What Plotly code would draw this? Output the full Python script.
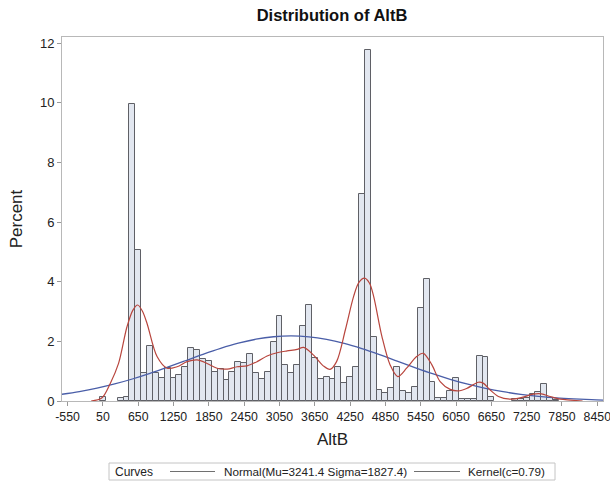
import plotly.graph_objects as go

# Histogram bins (midpoints) and percents
bin_mid = [50, 350, 450, 550, 650, 750, 850, 950, 1050, 1150, 1250, 1350, 1450, 1550,
           1650, 1750, 1850, 1950, 2050, 2150, 2250, 2350, 2450, 2550, 2650, 2750, 2850,
           2950, 3050, 3150, 3250, 3350, 3450, 3550, 3650, 3750, 3850, 3950, 4050, 4150,
           4250, 4350, 4450, 4550, 4650, 4750, 4850, 4950, 5050, 5150, 5250, 5350, 5450,
           5550, 5650, 5750, 5850, 5950, 6050, 6150, 6250, 6350, 6450, 6550, 6650, 7050,
           7150, 7250, 7350, 7450, 7550, 7650, 7750]
bin_pct = [0.12, 0.10, 0.15, 9.95, 5.05, 0.93, 1.85, 0.93, 0.76, 1.10, 0.76, 0.87, 1.13, 1.79,
           1.71, 1.40, 1.34, 0.98, 1.07, 0.70, 0.96, 1.30, 1.26, 1.58, 0.93, 0.74, 0.98,
           1.97, 2.85, 1.21, 0.93, 1.21, 2.53, 3.22, 1.43, 0.73, 0.82, 0.73, 1.15, 0.62,
           0.82, 1.13, 6.93, 11.78, 2.14, 0.37, 0.26, 0.42, 1.13, 0.34, 0.28, 0.48, 3.11,
           4.08, 0.65, 0.09, 0.09, 0.34, 0.78, 0.06, 0.06, 0.06, 1.51, 1.47, 0.12, 0.07,
           0.07, 0.09, 0.22, 0.30, 0.57, 0.09, 0.03]

# Normal curve
normal_x = [-650, -350, -50, 250, 550, 850, 1150, 1450, 1750, 2050, 2350, 2650, 2950, 3250,
            3550, 3850, 4150, 4450, 4750, 5050, 5350, 5650, 5950, 6250, 6550, 6850, 7150,
            7450, 7750, 8050, 8350, 8550]
normal_y = [0.226, 0.317, 0.431, 0.572, 0.738, 0.927, 1.134, 1.350, 1.565, 1.765, 1.938,
            2.072, 2.155, 2.183, 2.152, 2.065, 1.929, 1.754, 1.553, 1.338, 1.122, 0.916,
            0.728, 0.563, 0.424, 0.311, 0.222, 0.154, 0.104, 0.069, 0.044, 0.032]

# Kernel curve
kernel_x = [-150, 30, 175, 316, 459, 560, 640, 720, 800, 970, 1140, 1310, 1480, 1650, 1820,
            1990, 2160, 2330, 2500, 2670, 2840, 3010, 3180, 3350, 3460, 3630, 3800, 3910,
            4020, 4170, 4310, 4400, 4495, 4580, 4650, 4790, 4930, 5060, 5210, 5380, 5495,
            5640, 5780, 5950, 6090, 6230, 6430, 6510, 6630, 6770, 6970, 7170, 7360, 7500,
            7650, 7820, 7990, 8200]
kernel_y = [0.0, 0.1, 0.59, 1.26, 2.49, 3.05, 3.22, 3.02, 2.6, 1.49, 1.1, 1.15, 1.32, 1.38,
            1.26, 1.1, 1.07, 1.15, 1.18, 1.32, 1.51, 1.62, 1.68, 1.73, 1.8, 1.54, 1.17, 1.06,
            1.32, 2.39, 3.51, 3.98, 4.12, 3.95, 3.51, 2.17, 1.21, 0.82, 1.1, 1.49, 1.6, 1.21,
            0.65, 0.39, 0.34, 0.42, 0.63, 0.6, 0.37, 0.15, 0.06, 0.12, 0.23, 0.24, 0.15, 0.06,
            0.03, 0.0]

x_ticks = list(range(-550, 8451, 600))
y_ticks = [0, 2, 4, 6, 8, 10, 12]

legend_title = "Curves"
legend_names = ["Normal(Mu=3241.4 Sigma=1827.4)", "Kernel(c=0.79)"]

font = "Liberation Sans, Arial, sans-serif"
W, H = 610, 482
ML, MR, MT, MB = 62, 7, 37, 81


def px(xp):
    return (xp - ML) / (W - ML - MR)


def py(yp):
    return (H - MB - yp) / (H - MT - MB)


fig = go.Figure()
fig.add_trace(go.Bar(
    x=bin_mid, y=bin_pct, width=100,
    marker=dict(color="#E2E7F0", line=dict(color="#5F6066", width=1)),
    showlegend=False, hoverinfo="x+y"))
fig.add_trace(go.Scatter(
    x=normal_x, y=normal_y, mode="lines", line=dict(color="#4A5EA8", width=1.3, shape="spline"),
    name=legend_names[0], showlegend=False))
fig.add_trace(go.Scatter(
    x=kernel_x, y=kernel_y, mode="lines",
    line=dict(color="#B8453D", width=1.2, shape="spline", smoothing=0.9),
    name=legend_names[1], showlegend=False))

# Manual SAS-style legend
ly = 471.5
shapes = [
    dict(type="rect", xref="paper", yref="paper", x0=px(109), x1=px(555), y0=py(463), y1=py(480),
         line=dict(color="#c4c4c4", width=1), fillcolor="rgba(0,0,0,0)"),
    dict(type="line", xref="paper", yref="paper", x0=px(170), x1=px(215), y0=py(ly), y1=py(ly),
         line=dict(color="#707070", width=1.2)),
    dict(type="line", xref="paper", yref="paper", x0=px(414), x1=px(460), y0=py(ly), y1=py(ly),
         line=dict(color="#707070", width=1.2)),
]
annotations = [
    dict(text=legend_title, x=px(113), y=py(ly), xref="paper", yref="paper", xanchor="left",
         yanchor="middle", showarrow=False, font=dict(size=12, color="#222222")),
    dict(text=legend_names[0], x=px(222), y=py(ly), xref="paper", yref="paper", xanchor="left",
         yanchor="middle", showarrow=False, font=dict(size=11.7, color="#222222")),
    dict(text=legend_names[1], x=px(466), y=py(ly), xref="paper", yref="paper", xanchor="left",
         yanchor="middle", showarrow=False, font=dict(size=11.7, color="#222222")),
]

fig.update_layout(
    width=W, height=H,
    margin=dict(l=ML, r=MR, t=MT, b=MB),
    paper_bgcolor="white", plot_bgcolor="white",
    font=dict(family=font, color="#222222", size=12),
    title=dict(text="<b>Distribution of AltB</b>", x=332 / W, xanchor="center", y=1 - 15 / H,
               yanchor="middle", font=dict(size=16.5, color="#111111")),
    bargap=0,
    showlegend=False,
    shapes=shapes,
    annotations=annotations,
)
fig.update_xaxes(range=[-645, 8547], tickmode="array", tickvals=x_ticks,
                 ticktext=[str(t) for t in x_ticks], ticks="outside", ticklen=4,
                 tickcolor="#999999", showline=True, linecolor="#b8b8b8", mirror=True,
                 showgrid=False, zeroline=False, tickfont=dict(size=12.3),
                 ticklabeloverflow="allow", automargin=False,
                 title=dict(text="AltB", font=dict(size=17), standoff=10))
fig.update_yaxes(range=[0, 12.21], tickmode="array", tickvals=y_ticks, ticks="outside", ticklen=4,
                 tickcolor="#999999", showline=True, linecolor="#b8b8b8", mirror=True,
                 showgrid=False, zeroline=False, tickfont=dict(size=13),
                 ticklabeloverflow="allow", automargin=False,
                 title=dict(text="Percent", font=dict(size=17), standoff=12))

fig.write_html("out.html", config={"displayModeBar": False},
               post_script="document.body.style.margin='0';")
